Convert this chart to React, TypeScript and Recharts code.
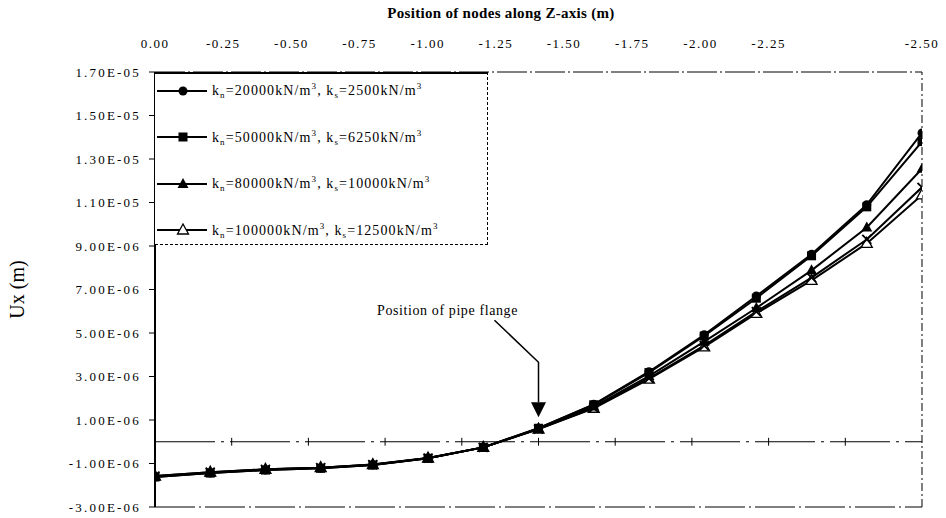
import React from "react";
import { LineChart, Line, XAxis, YAxis, ReferenceLine, ReferenceDot } from "recharts";

// node positions along the pipe (m), 15 nodes
const zNodes = [0, -0.18, -0.36, -0.54, -0.71, -0.89, -1.07, -1.25, -1.43, -1.61, -1.79, -1.96, -2.14, -2.32, -2.5];

// Ux (m) for each spring stiffness case
const uxK20000 = [-1.62e-6, -1.44e-6, -1.3e-6, -1.22e-6, -1.07e-6, -0.76e-6, -0.26e-6, 0.62e-6, 1.72e-6, 3.22e-6, 4.92e-6, 6.7e-6, 8.62e-6, 1.09e-5, 1.42e-5];
const uxK50000 = [-1.62e-6, -1.44e-6, -1.3e-6, -1.22e-6, -1.07e-6, -0.76e-6, -0.26e-6, 0.62e-6, 1.7e-6, 3.18e-6, 4.86e-6, 6.6e-6, 8.55e-6, 1.08e-5, 1.38e-5];
const uxK80000 = [-1.6e-6, -1.42e-6, -1.28e-6, -1.2e-6, -1.06e-6, -0.76e-6, -0.26e-6, 0.6e-6, 1.62e-6, 3.02e-6, 4.6e-6, 6.15e-6, 7.88e-6, 9.85e-6, 1.255e-5];
const uxCross = [-1.58e-6, -1.4e-6, -1.27e-6, -1.19e-6, -1.05e-6, -0.75e-6, -0.26e-6, 0.58e-6, 1.56e-6, 2.92e-6, 4.42e-6, 5.98e-6, 7.55e-6, 9.3e-6, 1.17e-5];
const uxK100000 = [-1.58e-6, -1.4e-6, -1.27e-6, -1.19e-6, -1.05e-6, -0.75e-6, -0.26e-6, 0.58e-6, 1.54e-6, 2.88e-6, 4.36e-6, 5.9e-6, 7.42e-6, 9.12e-6, 1.135e-5];

const normalStiffness = [20000, 50000, 80000, 100000];
const shearStiffness = [2500, 6250, 10000, 12500];

const yTicks = [-3e-6, -1e-6, 1e-6, 3e-6, 5e-6, 7e-6, 9e-6, 1.1e-5, 1.3e-5, 1.5e-5, 1.7e-5];
const topTickLabels = ["0.00", "-0.25", "-0.50", "-0.75", "-1.00", "-1.25", "-1.50", "-1.75", "-2.00", "-2.25", "-2.50"];
const zeroLineTicks = [-0.25, -0.5, -0.75, -1, -1.25, -1.5, -1.75, -2, -2.25];
const flangeZ = -1.25;

const FONT = '"Liberation Serif", "Times New Roman", serif';

type MarkerKind = "circle" | "square" | "triangle" | "cross" | "openTriangle";

const series: { key: string; marker: MarkerKind; values: number[]; legend: number }[] = [
  { key: "k100000", marker: "openTriangle", values: uxK100000, legend: 3 },
  { key: "kx", marker: "cross", values: uxCross, legend: -1 },
  { key: "k80000", marker: "triangle", values: uxK80000, legend: 2 },
  { key: "k50000", marker: "square", values: uxK50000, legend: 1 },
  { key: "k20000", marker: "circle", values: uxK20000, legend: 0 }
];

const data = zNodes.map((z, i) => {
  const row: Record<string, number> = { z };
  series.forEach((s) => (row[s.key] = s.values[i]));
  return row;
});

// the printed top labels are spaced evenly (about 0.222 m of the plot each),
// except the last one, which sits on the right edge of the plot
const topTickPos = topTickLabels.map((_, i) => (i < topTickLabels.length - 1 ? -i * (2.5 / 11.25) : -2.5));

function sci(v: number) {
  const [m, e] = v.toExponential(2).split("e");
  const n = parseInt(e, 10);
  return `${m}E${n < 0 ? "-" : "+"}${String(Math.abs(n)).padStart(2, "0")}`;
}

function Marker({ kind, cx, cy }: { kind: MarkerKind; cx: number; cy: number }) {
  if (kind === "circle") return <circle cx={cx} cy={cy} r={4.5} fill="#000" />;
  if (kind === "square") return <rect x={cx - 4.5} y={cy - 4.5} width={9} height={9} fill="#000" />;
  if (kind === "triangle")
    return <polygon points={`${cx},${cy - 6} ${cx - 5.5},${cy + 4} ${cx + 5.5},${cy + 4}`} fill="#000" />;
  if (kind === "openTriangle")
    return (
      <polygon
        points={`${cx},${cy - 6} ${cx - 5.5},${cy + 4} ${cx + 5.5},${cy + 4}`}
        fill="#fff"
        stroke="#000"
        strokeWidth={1.3}
      />
    );
  return (
    <g stroke="#000" strokeWidth={1.8}>
      <line x1={cx - 4.5} y1={cy - 4.5} x2={cx + 4.5} y2={cy + 4.5} />
      <line x1={cx - 4.5} y1={cy + 4.5} x2={cx + 4.5} y2={cy - 4.5} />
    </g>
  );
}

function FlangeArrow(props: any) {
  const { cx, cy } = props;
  if (cx == null || cy == null) return <g />;
  return (
    <g>
      <text x={cx - 91} y={cy - 113} textAnchor="middle" fontFamily={FONT} fontSize={14} letterSpacing={0.6} fill="#000">
        Position of pipe flange
      </text>
      <polyline
        points={`${cx - 44},${cy - 108} ${cx},${cy - 66} ${cx},${cy - 26}`}
        fill="none"
        stroke="#000"
        strokeWidth={1.5}
      />
      <polygon points={`${cx - 7.5},${cy - 26} ${cx + 7.5},${cy - 26} ${cx},${cy - 11}`} fill="#000" />
    </g>
  );
}

function LegendBox() {
  const rows = [...series].filter((s) => s.legend >= 0).sort((a, b) => a.legend - b.legend);
  return (
    <div
      style={{
        position: "absolute",
        left: 155,
        top: 72,
        width: 333,
        height: 173,
        background: "#fff",
        borderTop: "2px solid #000",
        borderRight: "1px dashed #000",
        borderBottom: "1px dashed #000",
        boxSizing: "border-box",
        fontFamily: FONT
      }}
    >
      {rows.map((s, i) => (
        <div
          key={s.key}
          style={{ position: "absolute", left: 2, top: 7 + i * 46.5, display: "flex", alignItems: "center", whiteSpace: "nowrap" }}
        >
          <svg width={50} height={14}>
            <line x1={0} y1={7} x2={50} y2={7} stroke="#000" strokeWidth={2} />
            <Marker kind={s.marker} cx={26} cy={7} />
          </svg>
          <span style={{ marginLeft: 5, fontSize: 14, letterSpacing: 1.1 }}>
            k<sub style={{ fontSize: 9 }}>n</sub>={normalStiffness[s.legend]}kN/m<sup style={{ fontSize: 9 }}>3</sup>, k
            <sub style={{ fontSize: 9 }}>s</sub>={shearStiffness[s.legend]}kN/m<sup style={{ fontSize: 9 }}>3</sup>
          </span>
        </div>
      ))}
    </div>
  );
}

export default function App() {
  const flangeIdx = zNodes.indexOf(flangeZ);
  return (
    <div style={{ position: "absolute", left: 0, top: 0, width: 946, height: 518, background: "#fff", fontFamily: FONT }}>
      <div
        style={{
          position: "absolute",
          left: 0,
          width: 1002,
          top: 5,
          textAlign: "center",
          fontSize: 15,
          fontWeight: "bold",
          letterSpacing: 0.3
        }}
      >
        Position of nodes along Z-axis (m)
      </div>
      <LineChart width={946} height={518} data={data} margin={{ top: 42, right: 24, bottom: 11, left: 0 }}>
        <XAxis xAxisId="z" dataKey="z" type="number" domain={[-2.5, 0]} reversed allowDataOverflow hide />
        <XAxis
          xAxisId="top"
          dataKey="z"
          orientation="top"
          type="number"
          domain={[-2.5, 0]}
          reversed
          ticks={topTickPos}
          allowDataOverflow
          height={30}
          axisLine={false}
          tickLine={false}
          tickSize={0}
          tickMargin={24}
          interval={0}
          tickFormatter={(_v: number, i: number) => topTickLabels[i]}
          tick={{ fill: "#000", fontSize: 13, fontFamily: FONT, letterSpacing: 1.5 }}
        />
        <YAxis
          type="number"
          domain={[-3e-6, 1.7e-5]}
          ticks={yTicks}
          allowDataOverflow
          width={155}
          interval={0}
          tickFormatter={sci}
          tickSize={6}
          tickMargin={8}
          axisLine={{ stroke: "#000", strokeWidth: 2 }}
          tickLine={{ stroke: "#000" }}
          tick={{ fill: "#000", fontSize: 13, fontFamily: FONT, letterSpacing: 2.2 }}
          label={{
            value: "Ux (m)",
            angle: -90,
            position: "insideLeft",
            offset: 17,
            style: { textAnchor: "middle", fontSize: 20, fontFamily: FONT, fill: "#000" }
          }}
        />
        <ReferenceLine xAxisId="z" y={1.7e-5} stroke="#000" strokeWidth={1} strokeDasharray="30 3 2 3" />
        <ReferenceLine xAxisId="z" y={-3e-6} stroke="#000" strokeWidth={1} strokeDasharray="40 4 2 4" />
        <ReferenceLine xAxisId="z" x={-2.5} stroke="#000" strokeWidth={1} strokeDasharray="8 3 2 3" />
        <ReferenceLine xAxisId="z" y={0} stroke="#000" strokeWidth={1} strokeDasharray="60 6 3 6" />
        {zeroLineTicks.map((t) => (
          <ReferenceLine
            key={t}
            xAxisId="z"
            segment={[
              { x: t, y: -1.8e-7 },
              { x: t, y: 1.8e-7 }
            ]}
            stroke="#000"
            strokeWidth={1}
          />
        ))}
        {series.map((s) => (
          <Line
            key={s.key}
            xAxisId="z"
            type="linear"
            dataKey={s.key}
            stroke="#000"
            strokeWidth={2}
            isAnimationActive={false}
            dot={(p: any) => <Marker key={`${s.key}-${p.index}`} kind={s.marker} cx={p.cx} cy={p.cy} />}
            activeDot={false}
          />
        ))}
        <ReferenceDot
          xAxisId="z"
          x={flangeZ}
          y={uxK20000[flangeIdx]}
          ifOverflow="visible"
          shape={(p: any) => <FlangeArrow {...p} />}
        />
      </LineChart>
      <LegendBox />
    </div>
  );
}
